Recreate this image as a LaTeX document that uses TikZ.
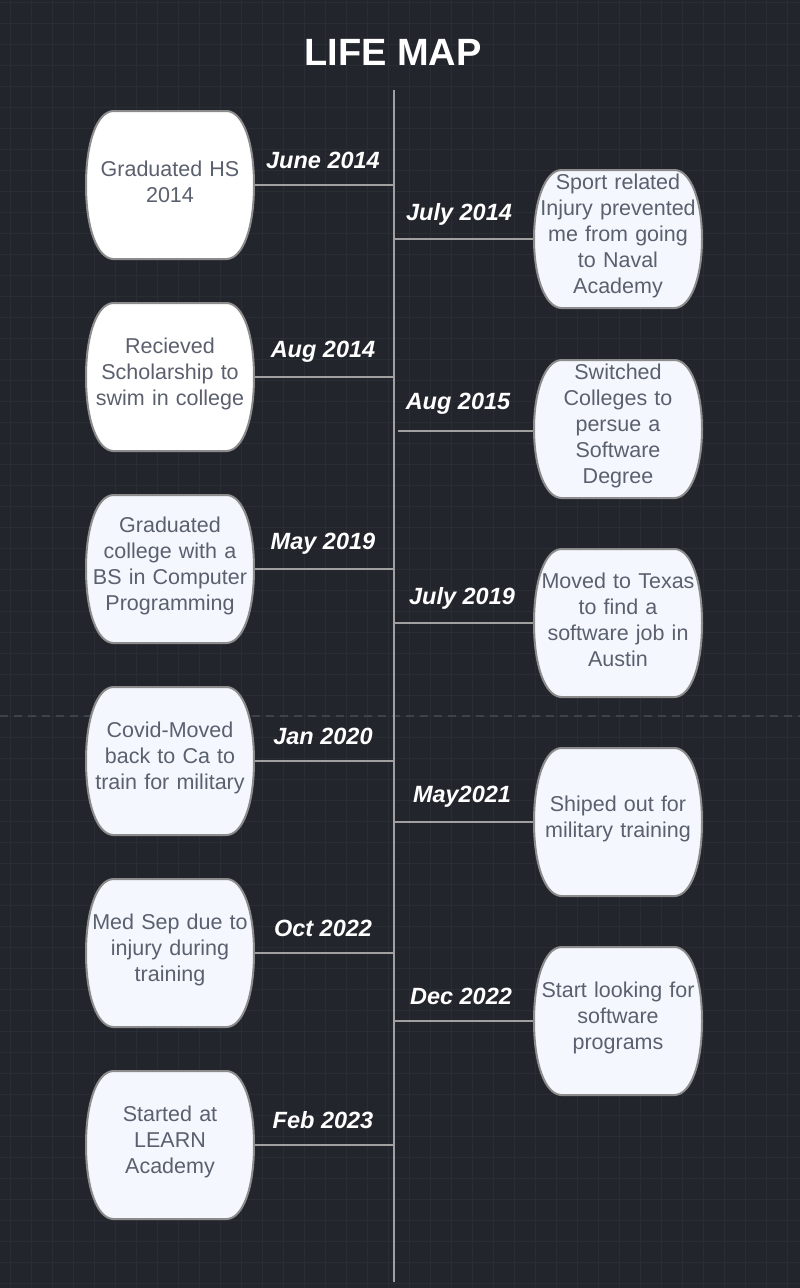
\documentclass[tikz,border=0pt]{standalone}
\usepackage{fontspec}
\setmainfont{Liberation Sans}
\usepackage{tikz}

\definecolor{bgdark}{RGB}{34,37,43}
\definecolor{gridline}{RGB}{41,45,52}
\definecolor{breakline}{RGB}{62,66,73}
\definecolor{axisgray}{RGB}{160,160,160}
\definecolor{edgegray}{RGB}{140,140,140}
\definecolor{boxfill}{RGB}{244,248,254}
\definecolor{eventtext}{RGB}{90,96,110}

\tikzset{
  eventbox/.style={rectangle, minimum width=170pt, minimum height=150pt, inner sep=0pt,
    text width=162pt, align=center, text=eventtext,
    font=\fontsize{21.5}{26}\selectfont,
    execute at end node={\par\vspace{6pt}},
    path picture={
      \draw[line width=2pt, edgegray, fill=#1]
        ([xshift=28pt,yshift=-1pt]path picture bounding box.north west)
        -- ([xshift=-28pt,yshift=-1pt]path picture bounding box.north east)
        .. controls ([xshift=-12pt,yshift=-2pt]path picture bounding box.north east)
        and ([xshift=-1pt,yshift=-32pt]path picture bounding box.north east)
        .. ([xshift=-1pt]path picture bounding box.east)
        .. controls ([xshift=-1pt,yshift=32pt]path picture bounding box.south east)
        and ([xshift=-12pt,yshift=2pt]path picture bounding box.south east)
        .. ([xshift=-28pt,yshift=1pt]path picture bounding box.south east)
        -- ([xshift=28pt,yshift=1pt]path picture bounding box.south west)
        .. controls ([xshift=12pt,yshift=2pt]path picture bounding box.south west)
        and ([xshift=1pt,yshift=32pt]path picture bounding box.south west)
        .. ([xshift=1pt]path picture bounding box.west)
        .. controls ([xshift=1pt,yshift=-32pt]path picture bounding box.north west)
        and ([xshift=12pt,yshift=-2pt]path picture bounding box.north west)
        .. ([xshift=28pt,yshift=-1pt]path picture bounding box.north west) -- cycle;
    }},
  eventbox/.default=boxfill,
  datelabel/.style={text=white, font=\fontsize{23.5}{28}\selectfont\bfseries\itshape},
  link/.style={axisgray, line width=2pt},
}

\begin{document}
\begin{tikzpicture}[x=1pt, y=-1pt]
				\useasboundingbox (0,0) rectangle (800,1288);
				\fill[bgdark] (0,0) rectangle (800,1288);
				
				% Grid
				\foreach \gx in {10,31,...,800} \draw[gridline, line width=0.8pt] (\gx,0) -- (\gx,1288);
				\foreach \gy in {2,23,...,1288} \draw[gridline, line width=0.8pt] (0,\gy) -- (800,\gy);
				\draw[breakline, line width=1.5pt, dash pattern=on 8pt off 6pt] (0,716) -- (800,716); % page break
				
				% Title
				\node[text=white, font=\fontsize{38}{44}\selectfont\bfseries] (title) at (393,52) {LIFE MAP};
				
				% Time line
				\coordinate (top) at (394,90);
				\coordinate (bottom) at (394,1282);
				\draw[link] (top) -- (bottom);
				
				% Left events
				\node[eventbox=white] (hs) at (170,185) {Graduated HS\\2014};
				\node[eventbox=white] (swim) at (170,377) {Recieved\\Scholarship to\\swim in college};
				\node[eventbox] (college) at (170,569) {Graduated\\college with a\\BS in Computer\\Programming};
				\node[eventbox] (covid) at (170,761) {Covid-Moved\\back to Ca to\\train for military};
				\node[eventbox] (medsep) at (170,953) {Med Sep due to\\injury during\\training};
				\node[eventbox] (learn) at (170,1145) {Started at\\LEARN\\Academy};
				
				% Right events
				\node[eventbox, minimum height=140pt] (injury) at (618,239) {Sport related\\Injury prevented\\me from going\\to Naval\\Academy};
				\node[eventbox, minimum height=140pt] (switch) at (618,429) {Switched\\Colleges to\\persue a\\Software\\Degree};
				\node[eventbox] (texas) at (618,623) {Moved to Texas\\to find a\\software job in\\Austin};
				\node[eventbox] (shiped) at (618,822) {Shiped out for\\military training};
				\node[eventbox] (looking) at (618,1021) {Start looking for\\software\\programs};
				
				% Dates
				\node[datelabel] (d1) at (323,160) {June 2014};
				\node[datelabel] (d2) at (459,214) {July 2014};
				\node[datelabel] (d3) at (323,352) {Aug 2014};
				\node[datelabel] (d4) at (458,404) {Aug 2015};
				\node[datelabel] (d5) at (323,544) {May 2019};
				\node[datelabel] (d6) at (462,598) {July 2019};
				\node[datelabel] (d7) at (323,736) {Jan 2020};
				\node[datelabel] (d8) at (462,797) {May2021};
				\node[datelabel] (d9) at (323,928) {Oct 2022};
				\node[datelabel] (d10) at (461,996) {Dec 2022};
				\node[datelabel] (d11) at (323,1120) {Feb 2023};
				
				% Connectors
				\draw[link] (hs.east) -- (hs.east -| top);
				\draw[link] (swim.east) -- (swim.east -| top);
				\draw[link] (college.east) -- (college.east -| top);
				\draw[link] (covid.east) -- (covid.east -| top);
				\draw[link] (medsep.east) -- (medsep.east -| top);
				\draw[link] (learn.east) -- (learn.east -| top);
				\draw[link] (injury.west -| top) -- (injury.west);
				\draw[link] ([xshift=4pt,yshift=-2pt]switch.west -| top) -- ([yshift=-2pt]switch.west); % not quite on the line
				\draw[link] (texas.west -| top) -- (texas.west);
				\draw[link] (shiped.west -| top) -- (shiped.west);
				\draw[link] (looking.west -| top) -- (looking.west);
			\end{tikzpicture}
\end{document}
